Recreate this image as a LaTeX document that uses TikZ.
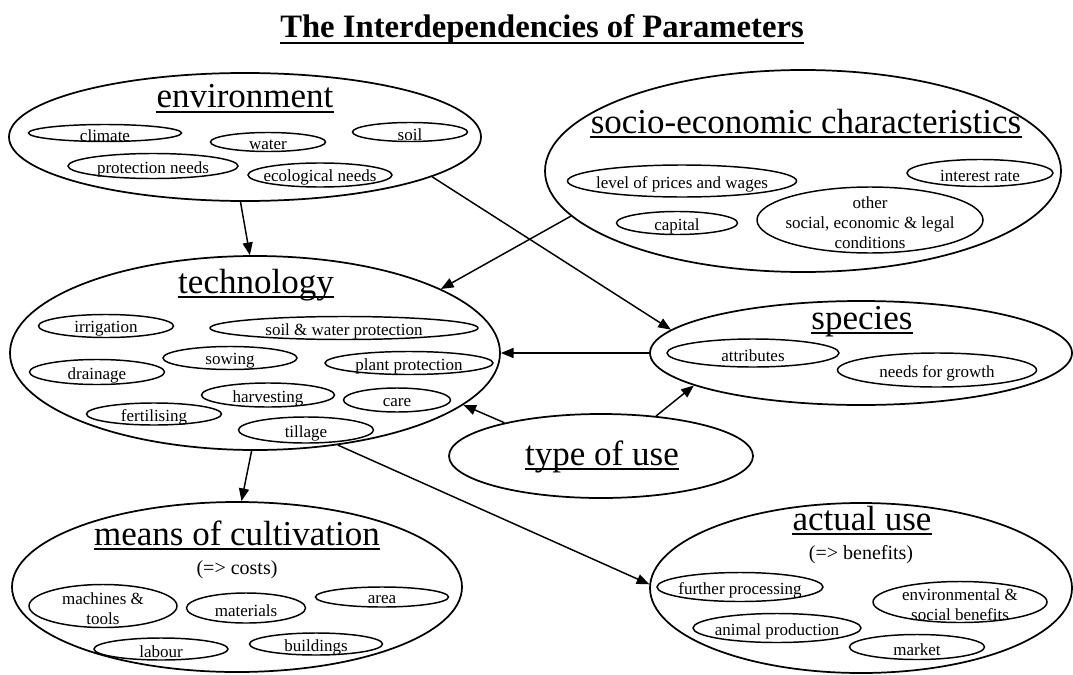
\documentclass[tikz,border=0pt]{standalone}
\usepackage{fontspec}
\setmainfont{Liberation Serif}
\usepackage{tikz}
\usetikzlibrary{shapes.geometric}
\usetikzlibrary{arrows.meta}

\tikzset{
	field/.style={ellipse, draw, line width=1.3pt, inner sep=0pt},
	heading/.style={font=\fontsize{26.25}{30}\selectfont, inner sep=0pt, anchor=base},
	note/.style={font=\fontsize{15}{18}\selectfont, inner sep=0pt, anchor=base},
	entry/.style={font=\fontsize{12.75}{15}\selectfont, inner sep=0pt, align=center, yshift=-2.2pt},
	link/.style={line width=1.1pt, -{Triangle[length=9.5pt,width=7.5pt]}}
}

\newcommand{\topic}[6] % name, x in px, y in px, width in px, height in px, text
{
	% draw outline
	\draw[line width=1.1pt] (#2,#3) ellipse ({#4/2} and {#5/2});
	% label
	\node[entry] (#1) at (#2,#3) {#6};
}
\newcommand{\heading}[4] % name, x in px, baseline in px, text
{
	\node[heading] (#1) at (#2,#3) {#4};
	% underline
	\draw[line width=1.3pt] ([yshift=-3.2pt]#1.base west) -- ([yshift=-3.2pt]#1.base east);
}

\begin{document}
\begin{tikzpicture}[x=0.75pt, y=-0.75pt]
	% 1073px x 674px, y pointing down
	\useasboundingbox (0,0) rectangle (1073,674);
	\node[font=\fontsize{24.5}{28}\selectfont\bfseries, inner sep=0pt, anchor=base] (title) at (542,38) {The Interdependencies of Parameters};
	\draw[line width=1.6pt] ([yshift=-3.6pt]title.base west) -- ([yshift=-3.6pt]title.base east);
	
	% environment
	\node[field, minimum width=472*0.75pt, minimum height=128*0.75pt] (env) at (245,137) {};
	\heading{envhead}{245}{108}{environment}
	\topic{climate}{105}{133}{153}{17}{climate}
	\topic{water}{268}{142}{115}{19}{water}
	\topic{soil}{410}{132}{115}{19}{soil}
	\topic{protect}{153}{166}{170}{25}{protection needs}
	\topic{econeeds}{320}{175}{144}{24}{ecological needs}
	
	% socio-economic characteristics
	\node[field, minimum width=516*0.75pt, minimum height=202*0.75pt] (socio) at (803,171) {};
	\heading{sociohead}{806}{133}{socio-economic characteristics}
	\topic{prices}{682}{181}{229}{32}{level of prices and wages}
	\topic{interest}{980}{173}{146}{27}{interest rate}
	\topic{capital}{677}{223}{121}{23}{capital}
	\topic{other}{870}{220}{226}{66}{other\\social, economic \& legal\\conditions}
	
	% technology
	\node[field, minimum width=490*0.75pt, minimum height=194*0.75pt] (tech) at (255,353) {};
	\heading{techhead}{256}{293}{technology}
	\topic{irrigation}{106}{326}{135}{23}{irrigation}
	\topic{soilwater}{344}{328}{268}{23}{soil \& water protection}
	\topic{sowing}{230}{358}{134}{23}{sowing}
	\topic{plantprot}{409}{363}{168}{23}{plant protection}
	\topic{drainage}{97}{372}{135}{25}{drainage}
	\topic{harvesting}{268}{395}{133}{24}{harvesting}
	\topic{care}{397}{400}{107}{24}{care}
	\topic{fertilising}{154}{414}{135}{22}{fertilising}
	\topic{tillage}{306}{430}{135}{26}{tillage}
	
	% species
	\node[field, minimum width=422*0.75pt, minimum height=104*0.75pt] (spec) at (861,353) {};
	\heading{spechead}{862}{329}{species}
	\topic{attributes}{753}{353}{172}{28}{attributes}
	\topic{growth}{937}{370}{199}{34}{needs for growth}
	
	% type of use
	\node[field, minimum width=304*0.75pt, minimum height=84*0.75pt] (type) at (601,456) {};
	\heading{typehead}{602}{465}{type of use}
	
	% means of cultivation
	\node[field, minimum width=450*0.75pt, minimum height=170*0.75pt] (means) at (237,587) {};
	\heading{meanshead}{237}{545}{means of cultivation}
	\node[note] (costs) at (237,574) {(=> costs)};
	\topic{machines}{103}{606}{148}{43}{machines \&\\tools}
	\topic{materials}{246}{608}{119}{30}{materials}
	\topic{area}{382}{597}{133}{20}{area}
	\topic{labour}{161}{649}{134}{22}{labour}
	\topic{buildings}{316}{644}{133}{22}{buildings}
	
	% actual use
	\node[field, minimum width=422*0.75pt, minimum height=170*0.75pt] (actual) at (861,588) {};
	\heading{actualhead}{862}{530}{actual use}
	\node[note] (benefits) at (861,559) {(=> benefits)};
	\topic{processing}{740}{587}{166}{29}{further processing}
	\topic{envbenefits}{960}{602}{174}{41}{environmental \&\\social benefits}
	\topic{animal}{777}{628}{168}{29}{animal production}
	\topic{market}{917}{647}{135}{25}{market}
	
	% links
	\draw[link] (env.-94) -- (tech.93);
	\draw[link] (env.-12) -- (spec.173);
	\draw[link] (socio.191) -- (tech.19);
	\draw[link] (spec.west) -- (tech.east);
	\draw[link] (type.161) -- (tech.-14);
	\draw[link] (type.36) -- (spec.191);
	\draw[link] (tech.-92) -- (means.87);
	\draw[link] (tech.-48) -- (actual.179);
\end{tikzpicture}
\end{document}
